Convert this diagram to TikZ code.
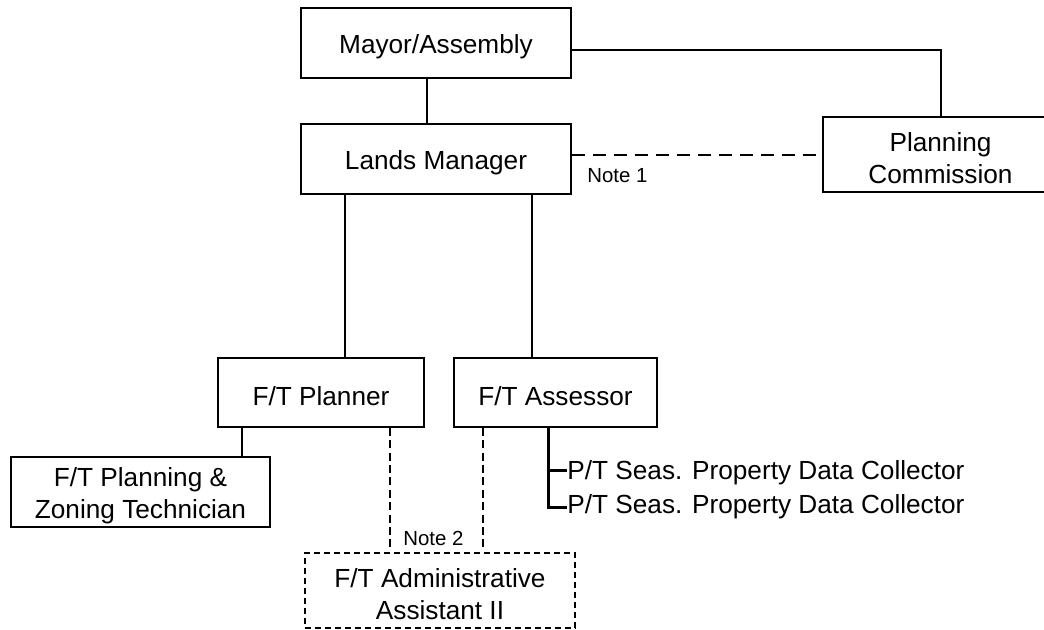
\documentclass[tikz,border=0pt]{standalone}
\usepackage{fontspec}
\setmainfont{Liberation Sans}
% taller first line, so that box labels sit slightly below the box centre
\newcommand{\firstline}{\rule{0pt}{13.4pt}}
\begin{document}
\begin{tikzpicture}[x=0.5pt,y=-0.5pt,
  orgbox/.style={draw, line width=0.8pt, rectangle, align=center, inner sep=0pt,
    font=\fontsize{13.1}{16}\selectfont},
  vacant/.style={orgbox, dashed, dash pattern=on 3pt off 2pt, line width=0.6pt},
  link/.style={line width=1.3pt},
  advisory/.style={line width=1.1pt, dash pattern=on 6.5pt off 4pt},
  support/.style={line width=0.55pt, dash pattern=on 4pt off 2.2pt},
  note/.style={font=\fontsize{10.2}{12}\selectfont, inner sep=0pt, anchor=west},
  staff/.style={font=\fontsize{13.1}{15.5}\selectfont, inner sep=0pt, anchor=base west}]
  \useasboundingbox (0,0) rectangle (1044,630);
  \clip (0,0) rectangle (1044,630);
  \fill[white] (0,0) rectangle (1044,630);

  % boxes
  \node[orgbox, minimum width=135pt, minimum height=35pt] (mayor) at (436,43) {\firstline Mayor/Assembly};
  \node[orgbox, minimum width=135pt, minimum height=35pt] (lands) at (436,159) {\firstline Lands Manager};
  \node[orgbox, minimum width=117.5pt, minimum height=37.5pt] (pc) at (940.5,154.5) {\firstline Planning\\Commission};
  \node[orgbox, minimum width=103pt, minimum height=34.5pt] (planner) at (321,392.5) {\firstline F/T Planner};
  \node[orgbox, minimum width=101.5pt, minimum height=34.5pt] (assessor) at (555.5,392.5) {\firstline F/T Assessor};
  \node[orgbox, minimum width=129.5pt, minimum height=35pt] (tech) at (140.5,492) {\firstline F/T Planning \&\\Zoning Technician};
  \node[vacant, minimum width=135pt, minimum height=37.5pt] (admin) at (440,590.5) {\firstline F/T Administrative\\Assistant II};

  % columns of the connectors
  \coordinate (cMayor) at (427,0);
  \coordinate (cPlanner) at (345,0);
  \coordinate (cAssessor) at (532,0);
  \coordinate (cTech) at (242,0);
  \coordinate (cSupA) at (390,0);
  \coordinate (cSupB) at (483,0);
  \coordinate (cStaff) at (548,0);
  \coordinate (cPc) at (941,0);
  \coordinate (supEndA) at (390,547);
  \coordinate (supEndB) at (483,547);

  % reporting lines
  \draw[link] (mayor.south -| cMayor) -- (lands.north -| cMayor);
  \draw[link, line width=1.1pt] (mayor.east |- 0,50) -| (pc.north -| cPc);
  \draw[advisory] (lands.east |- 0,155) -- (pc.west |- 0,155);
  \draw[link] (lands.south -| cPlanner) -- (planner.north -| cPlanner);
  \draw[link] (lands.south -| cAssessor) -- (assessor.north -| cAssessor);
  \draw[link] (planner.south -| cTech) -- (tech.north -| cTech);
  \draw[support] (planner.south -| cSupA) -- (supEndA);
  \draw[support] (assessor.south -| cSupB) -- (supEndB);

  % seasonal staff
  \node[staff] (pt1) at (567,480) {P/T Seas. Property Data Collector};
  \node[staff] (pt2) at (567,513) {P/T Seas. Property Data Collector};
  \draw[link, line width=1.5pt] (assessor.south -| cStaff) |- (pt2.west |- 0,507);
  \draw[link, line width=1.5pt] (cStaff |- 0,471) -- (pt1.west |- 0,471);

  % notes
  \node[note] (note1) at (587,176) {Note 1};
  \node[note] (note2) at (403,538) {Note 2};
\end{tikzpicture}
\end{document}
